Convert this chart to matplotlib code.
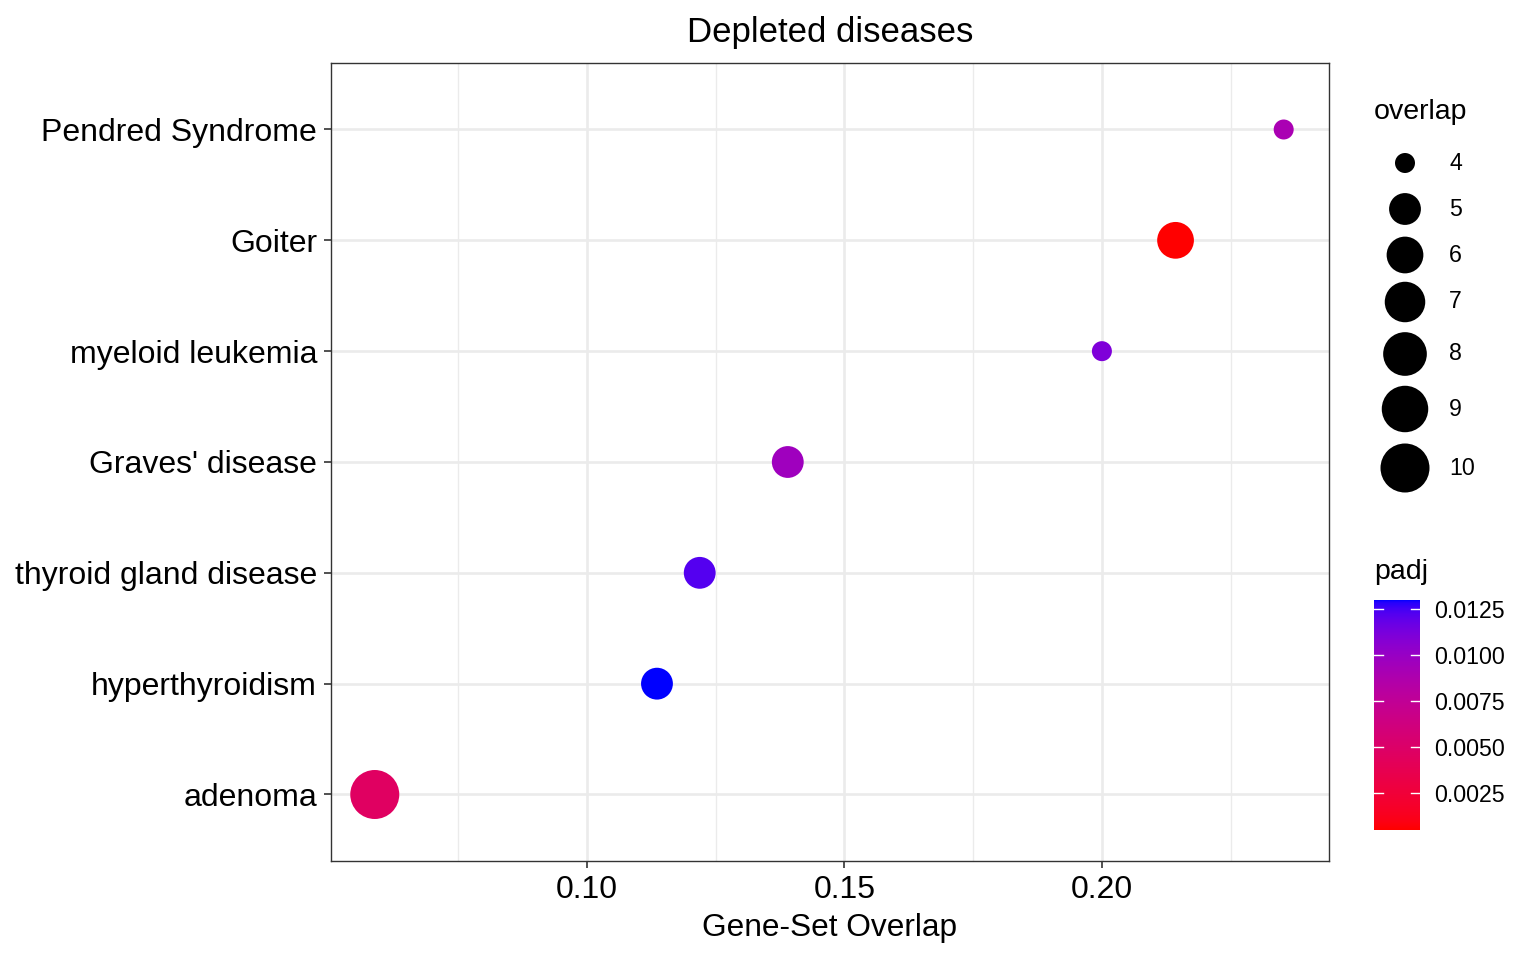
import numpy as np
import matplotlib
matplotlib.use("Agg")
from matplotlib import pyplot as plt
from matplotlib.colors import ListedColormap, Normalize

plt.rcParams['font.family'] = ['Liberation Sans', 'DejaVu Sans']

# data, bottom to top as drawn
diseases = ['adenoma', 'hyperthyroidism', 'thyroid gland disease', "Graves' disease",
            'myeloid leukemia', 'Goiter', 'Pendred Syndrome']
gene_set_overlap = [0.0588, 0.1136, 0.1219, 0.1390, 0.2000, 0.2143, 0.2353]
overlap = [10, 5, 5, 5, 4, 6, 4]
padj = [0.0046, 0.0130, 0.0122, 0.0096, 0.0110, 0.0005, 0.0090]

size_breaks = [4, 5, 6, 7, 8, 9, 10]
padj_breaks = [0.0025, 0.0050, 0.0075, 0.0100, 0.0125]


# red -> blue gradient interpolated in Lab space (like ggplot's scale_colour_gradient)
def srgb_to_lab(rgb):
    rgb = np.asarray(rgb, float)
    lin = np.where(rgb <= 0.04045, rgb / 12.92, ((rgb + 0.055) / 1.055) ** 2.4)
    M = np.array([[0.4124, 0.3576, 0.1805], [0.2126, 0.7152, 0.0722], [0.0193, 0.1192, 0.9505]])
    xyz = M @ lin / np.array([0.95047, 1.0, 1.08883])
    f = np.where(xyz > 0.008856, np.cbrt(xyz), 7.787 * xyz + 16 / 116)
    return np.array([116 * f[1] - 16, 500 * (f[0] - f[1]), 200 * (f[1] - f[2])])


def lab_to_srgb(lab):
    L, a, b = lab
    fy = (L + 16) / 116
    fx = fy + a / 500
    fz = fy - b / 200
    f = np.array([fx, fy, fz])
    xyz = np.where(f ** 3 > 0.008856, f ** 3, (f - 16 / 116) / 7.787) * np.array([0.95047, 1.0, 1.08883])
    Minv = np.array([[3.2406, -1.5372, -0.4986], [-0.9689, 1.8758, 0.0415], [0.0557, -0.2040, 1.0570]])
    lin = np.clip(Minv @ xyz, 0, 1)
    rgb = np.where(lin <= 0.0031308, 12.92 * lin, 1.055 * lin ** (1 / 2.4) - 0.055)
    return np.clip(rgb, 0, 1)


lab_lo = srgb_to_lab([1, 0, 0])
lab_hi = srgb_to_lab([0, 0, 1])
grad = [lab_to_srgb(lab_lo + t * (lab_hi - lab_lo)) for t in np.linspace(0, 1, 256)]
cmap = ListedColormap(grad)
norm = Normalize(vmin=min(padj), vmax=max(padj))


def size_px(v):
    lo, hi = min(overlap), max(overlap)
    return 20 + 29 * np.sqrt((np.asarray(v, float) - lo) / (hi - lo))


def s_pts(v):
    return (size_px(v) * 0.72) ** 2


fig = plt.figure(figsize=(15.36, 9.6), dpi=100)
W, H = 1536, 960
ax = fig.add_axes([331 / W, 1 - 861 / H, (1329 - 331) / W, (861 - 63) / H])

ypos = np.arange(1, len(diseases) + 1)
ax.scatter(gene_set_overlap, ypos, s=s_pts(overlap), c=padj, cmap=cmap, norm=norm,
           linewidths=0, zorder=3)

ax.set_xlim(0.0503, 0.2441)
ax.set_ylim(0.4, len(diseases) + 0.6)
ax.set_xticks([0.10, 0.15, 0.20])
ax.set_xticklabels(['0.10', '0.15', '0.20'])
ax.set_xticks([0.075, 0.125, 0.175, 0.225], minor=True)
ax.set_yticks(ypos)
ax.set_yticklabels(diseases)
ax.grid(True, which='major', color='#EBEBEB', linewidth=1.9, zorder=0)
ax.grid(True, which='minor', axis='x', color='#EBEBEB', linewidth=0.95, zorder=0)
ax.set_axisbelow(True)
ax.tick_params(which='major', length=5, width=1.2, color='#333333', labelsize=23,
               labelcolor='black', pad=5)
ax.tick_params(which='minor', length=0)
for sp in ax.spines.values():
    sp.set_color('#333333')
    sp.set_linewidth(1.0)
ax.set_xlabel('Gene-Set Overlap', fontsize=22.8, labelpad=6)
ax.set_title('Depleted diseases', fontsize=25, pad=15)

# size legend
fig.text(1374 / W, 1 - 112 / H, 'overlap', fontsize=20.5, va='center', ha='left')
lax = fig.add_axes([1380 / W, 1 - 500 / H, 100 / W, 360 / H])
lax.set_xlim(1380, 1480)
lax.set_ylim(500, 140)
lax.axis('off')
key_y = [163, 209, 255, 302, 354, 409, 468]
lax.scatter([1405] * len(size_breaks), key_y, s=s_pts(size_breaks), color='black', linewidths=0,
            clip_on=False)
for yy, v in zip(key_y, size_breaks):
    lax.text(1449, yy, str(v), fontsize=16.7, va='center', ha='left')

# colour bar
fig.text(1374 / W, 1 - 572 / H, 'padj', fontsize=20.5, va='center', ha='left')
cax = fig.add_axes([1374 / W, 1 - 830 / H, 46 / W, 230 / H])
vals = np.linspace(min(padj), max(padj), 300)
cax.imshow(vals[::-1, None], aspect='auto', cmap=cmap, norm=norm,
           extent=[0, 1, min(padj), max(padj)])
cax.set_xlim(0, 1)
cax.set_ylim(min(padj), max(padj))
for v in padj_breaks:
    cax.plot([0, 0.2], [v, v], color='white', lw=1.0)
    cax.plot([0.8, 1], [v, v], color='white', lw=1.0)
cax.set_xticks([])
cax.set_yticks(padj_breaks)
cax.set_yticklabels([f'{v:.4f}' for v in padj_breaks])
cax.yaxis.tick_right()
cax.tick_params(length=0, labelsize=16.7, pad=10)
for sp in cax.spines.values():
    sp.set_visible(False)

fig.savefig('out.png', dpi=100)
